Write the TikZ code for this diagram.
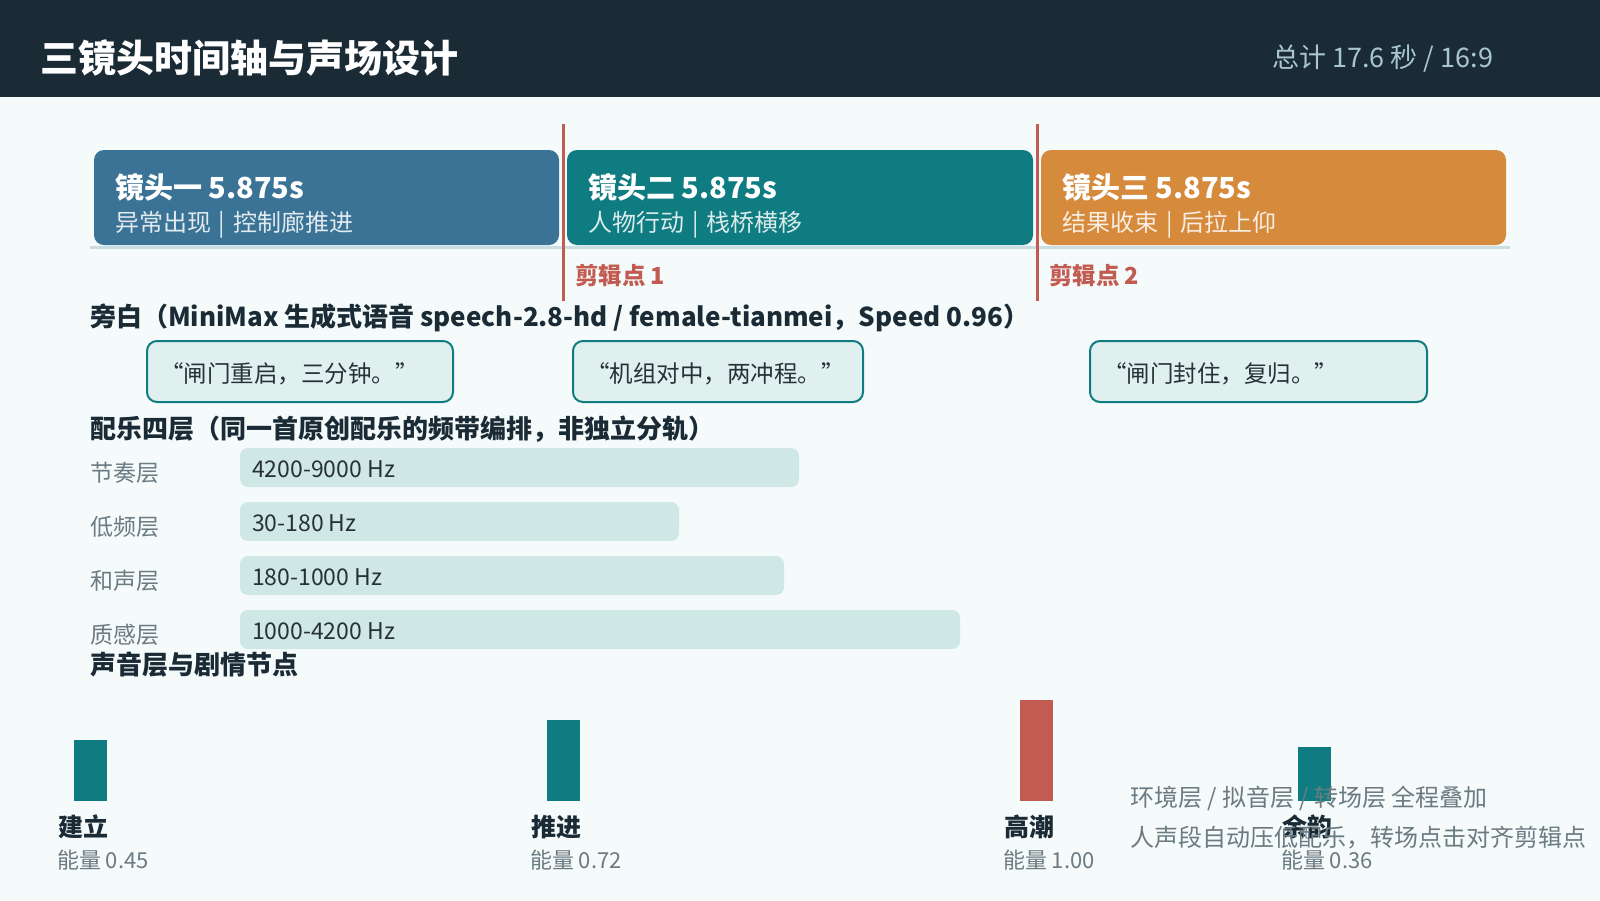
\documentclass[tikz,border=0pt]{standalone}
\usepackage{fontspec}
\setmainfont{Noto Sans CJK SC}
\usetikzlibrary{positioning}

\definecolor{fondo}{HTML}{F5FAFA}
\definecolor{cabecera}{HTML}{1B2B36}
\definecolor{azul}{HTML}{3A7396}
\definecolor{verde}{HTML}{0E7C80}
\definecolor{naranja}{HTML}{D68A3C}
\definecolor{rojo}{HTML}{C25B52}
\definecolor{gris}{HTML}{6B7B82}
\definecolor{banda}{HTML}{CFE7E5}
\definecolor{cita}{HTML}{DFF0EF}
\definecolor{linea}{HTML}{C9DDE2}
\definecolor{subt}{HTML}{A9C6CF}
\definecolor{oscuro}{HTML}{263238}

\newcommand{\barrita}{\hspace{8pt}|\hspace{8pt}}

\tikzset{
  every node/.style={inner sep=0pt, outer sep=0pt},
  titulo/.style={text=white, font=\bfseries\fontsize{38}{42}\selectfont},
  plano/.style={rounded corners=10pt, minimum height=95pt},
  tplano/.style={text=white, font=\bfseries\fontsize{29}{33}\selectfont},
  splano/.style={text=white, text opacity=0.85, font=\fontsize{24}{28}\selectfont},
  corte/.style={text=rojo, font=\bfseries\fontsize{23.5}{27}\selectfont},
  seccion/.style={text=cabecera, font=\bfseries\fontsize{26}{30}\selectfont},
  citabox/.style={draw=verde, line width=2pt, fill=cita, rounded corners=10pt, minimum height=61pt},
  tcita/.style={text=oscuro, font=\fontsize{23.5}{27}\selectfont},
  bandabox/.style={fill=banda, rounded corners=8pt, minimum height=39pt},
  tbanda/.style={text=oscuro, font=\fontsize{23}{27}\selectfont},
  capa/.style={text=gris, font=\fontsize{23}{27}\selectfont},
  nodo/.style={text=cabecera, font=\bfseries\fontsize{25}{29}\selectfont},
  energia/.style={text=gris, font=\fontsize{22}{26}\selectfont},
  nota/.style={text=gris, font=\fontsize{24}{28}\selectfont}
}

\begin{document}
\begin{tikzpicture}[x=1pt, y=-1pt]
    \useasboundingbox (0,0) rectangle (1600,900);
    \fill[fondo] (0,0) rectangle (1600,900);

    % Cabecera
    \fill[cabecera] (0,0) rectangle (1600,97);
    \node[titulo, anchor=west] (titulo) at (40,58) {三镜头时间轴与声场设计};
    \node[anchor=east, text=subt, font=\fontsize{27}{30}\selectfont] (total) at (1493,59) {总计 17.6 秒 / 16:9};

    % Linea de tiempo con los tres planos
    \draw[linea, line width=3pt] (90,247) -- (1510,247);
    \foreach \x/\w/\c/\tit/\sub [count=\i] in {
        94/465/azul/{镜头一 5.875s}/{异常出现\barrita 控制廊推进},
        567/466/verde/{镜头二 5.875s}/{人物行动\barrita 栈桥横移},
        1041/465/naranja/{镜头三 5.875s}/{结果收束\barrita 后拉上仰}} {
        \node[plano, fill=\c, minimum width=\w pt, anchor=north west] (plano\i) at (\x,150) {};
        \node[tplano, anchor=west] (tit\i) at (\x+21,187) {\tit};
        \node[splano, anchor=west] (sub\i) at (\x+21,225) {\sub};
    }

    % Puntos de corte
    \foreach \x [count=\i] in {563,1037} {
        \draw[rojo, line width=3pt] (\x,124) -- (\x,301);
        \node[corte, anchor=west] (corte\i) at (\x+12,276) {剪辑点 \i};
    }

    % Voz en off
    \node[seccion, anchor=west] (narracion) at (90,318) {旁白（MiniMax 生成式语音 speech-2.8-hd / female-tianmei，Speed 0.96）};
    \foreach \x/\w/\txt [count=\i] in {
        147/306/{“闸门重启，三分钟。”},
        573/290/{“机组对中，两冲程。”},
        1090/337/{“闸门封住，复归。”}} {
        \node[citabox, minimum width=\w pt, anchor=north west] (cita\i) at (\x,341) {};
        \node[tcita, anchor=west] (tcita\i) at (\x+13,374) {\txt};
    }

    % Musica en cuatro capas
    \node[seccion, anchor=west] (musica) at (90,429) {配乐四层（同一首原创配乐的频带编排，非独立分轨）};
    \foreach \nom/\w/\txt [count=\i, evaluate=\i as \yy using 448+54*(\i-1)] in {
        节奏层/559/{4200-9000 Hz},
        低频层/439/{30-180 Hz},
        和声层/544/{180-1000 Hz},
        质感层/720/{1000-4200 Hz}} {
        \node[capa, anchor=west] (capa\i) at (90,\yy+25) {\nom};
        \node[bandabox, minimum width=\w pt, anchor=north west] (banda\i) at (240,\yy) {};
        \node[tbanda, anchor=west] (tbanda\i) at (252,\yy+21) {\txt};
    }

    % Capas de sonido y nodos de la trama
    \node[seccion, anchor=west] (trama) at (90,665) {声音层与剧情节点};
    \foreach \x/\h/\c/\nom/\e [count=\i] in {
        74/61/verde/建立/0.45,
        547/81/verde/推进/0.72,
        1020/101/rojo/高潮/1.00,
        1298/54/verde/余韵/0.36} {
        \fill[\c] (\x,801-\h) rectangle (\x+33,801);
        \node[nodo, anchor=west] (nodo\i) at (\x-16,827) {\nom};
        \node[energia, anchor=west] (energia\i) at (\x-17,860) {能量 \e};
    }

    % Notas
    \node[nota, anchor=west] (nota1) at (1130,798) {环境层 / 拟音层 / 转场层 全程叠加};
    \node[nota, anchor=west] (nota2) at (1130,838) {人声段自动压低配乐，转场点击对齐剪辑点};

\end{tikzpicture}
\end{document}
